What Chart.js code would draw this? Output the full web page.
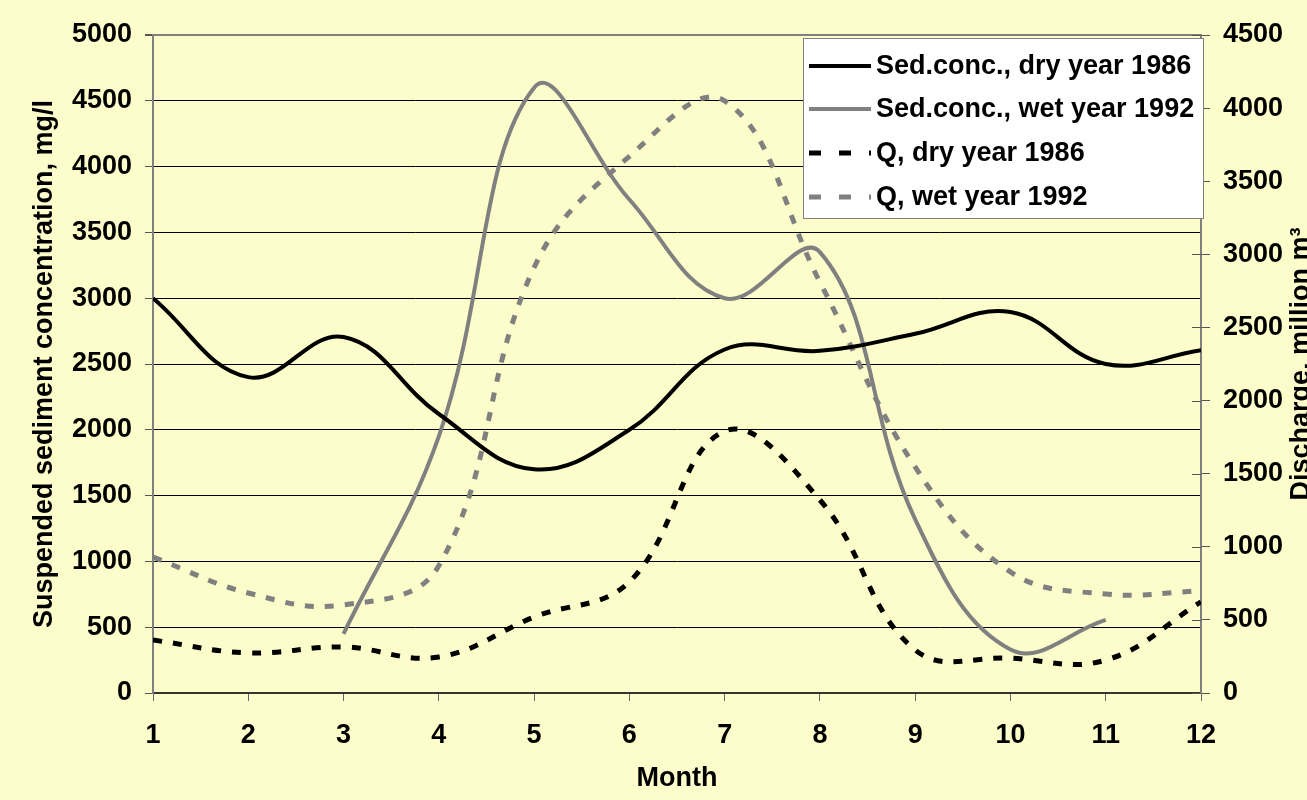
<!DOCTYPE html>
<html>
<head>
<meta charset="utf-8">
<script src="https://cdn.jsdelivr.net/npm/chart.js@4.4.0/dist/chart.umd.min.js"></script>
<style>
  html, body { margin: 0; padding: 0; background: #fdfdcb; overflow: hidden; }
  canvas { display: block; }
</style>
</head>
<body>
<canvas id="chart" width="1307" height="800"></canvas>
<script>
// monthly values
const months = [1, 2, 3, 4, 5, 6, 7, 8, 9, 10, 11, 12];
const sedDry1986 = [3000, 2400, 2705, 2120, 1700, 2000, 2610, 2600, 2730, 2895, 2500, 2605];
const sedWet1992 = [null, null, 450, 1950, 4600, 3750, 3000, 3350, 1320, 330, 555, null];
const qDry1986 = [362, 274, 315, 246, 520, 760, 1790, 1320, 294, 239, 225, 623];
const qWet1992 = [930, 684, 602, 870, 2910, 3670, 4050, 2810, 1546, 828, 677, 698];

const leftTicks = [0, 500, 1000, 1500, 2000, 2500, 3000, 3500, 4000, 4500, 5000];
const rightTicks = [0, 500, 1000, 1500, 2000, 2500, 3000, 3500, 4000, 4500];

const seriesNames = ['Sed.conc., dry year 1986', 'Sed.conc., wet year 1992', 'Q, dry year 1986', 'Q, wet year 1992'];
const xTitle = 'Month';
const leftTitle = 'Suspended sediment concentration, mg/l';
const rightTitle = 'Discharge, million m³';

const FONT = '"Liberation Sans", Arial, sans-serif';

function pts(vals) {
    return months.map((m, i) => ({ x: m, y: vals[i] }));
}

const data = {
    datasets: [
        { label: seriesNames[0], data: pts(sedDry1986), yAxisID: 'y', borderColor: '#000000', borderWidth: 4 },
        { label: seriesNames[1], data: pts(sedWet1992), yAxisID: 'y', borderColor: '#808080', borderWidth: 4 },
        { label: seriesNames[2], data: pts(qDry1986), yAxisID: 'y1', borderColor: '#000000', borderWidth: 5, borderDash: [9, 11] },
        { label: seriesNames[3], data: pts(qWet1992), yAxisID: 'y1', borderColor: '#808080', borderWidth: 5, borderDash: [9, 11] }
    ]
};

// right axis title (reads bottom to top), inner ticks on the right axis, boxed legend
const extras = {
    id: 'extras',
    afterDraw(chart) {
        const ctx = chart.ctx;
        const area = chart.chartArea;
        const y1 = chart.scales.y1;
        ctx.save();
        ctx.strokeStyle = '#555';
        ctx.lineWidth = 1;
        y1.ticks.forEach(t => {
            const py = Math.round(y1.getPixelForValue(t.value)) + 0.5;
            ctx.beginPath();
            ctx.moveTo(y1.left - 9, py);
            ctx.lineTo(y1.left, py);
            ctx.stroke();
        });
        ctx.restore();

        ctx.save();
        ctx.translate(1302, (area.top + area.bottom) / 2);
        ctx.rotate(-Math.PI / 2);
        ctx.font = 'bold 27px ' + FONT;
        ctx.fillStyle = '#000';
        ctx.textAlign = 'center';
        ctx.textBaseline = 'middle';
        ctx.fillText(rightTitle, 0, 0);
        ctx.restore();

        // legend
        const bx = 803.5, by = 38.5, bw = 400, bh = 180;
        const rows = [66, 109, 153, 197];
        ctx.save();
        ctx.fillStyle = '#ffffff';
        ctx.fillRect(bx, by, bw, bh);
        ctx.strokeStyle = '#808080';
        ctx.lineWidth = 1;
        ctx.strokeRect(bx, by, bw, bh);
        chart.data.datasets.forEach((ds, i) => {
            const y = rows[i];
            ctx.beginPath();
            ctx.strokeStyle = ds.borderColor;
            ctx.lineWidth = ds.borderDash ? 5 : 4;
            ctx.setLineDash(ds.borderDash ? [12, 18] : []);
            ctx.moveTo(809, y);
            ctx.lineTo(871, y);
            ctx.stroke();
            ctx.setLineDash([]);
            ctx.fillStyle = '#000';
            ctx.font = 'bold 27px ' + FONT;
            ctx.textAlign = 'left';
            ctx.textBaseline = 'middle';
            ctx.fillText(ds.label, 876, y + 1);
        });
        ctx.restore();
    }
};

const tickFont = { family: FONT, size: 27, weight: 'bold' };
const plain = v => String(v);

const config = {
    type: 'line',
    data: data,
    options: {
        responsive: false,
        animation: false,
        events: [],
        layout: { padding: { top: 35, left: 0, right: 0, bottom: 0 } },
        elements: {
            line: { tension: 0.4, fill: false, borderCapStyle: 'butt' },
            point: { radius: 0 }
        },
        plugins: {
            legend: { display: false },
            tooltip: { enabled: false }
        },
        scales: {
            x: {
                type: 'linear',
                min: 1,
                max: 12,
                afterFit: s => { s.height = 107; },
                afterBuildTicks: s => { s.ticks = months.map(v => ({ value: v })); },
                ticks: { color: '#000', font: tickFont, padding: 18, maxRotation: 0, callback: plain },
                grid: { drawOnChartArea: false, drawTicks: true, tickLength: 8, color: '#666' },
                border: { color: '#333', width: 2 },
                title: { display: true, text: xTitle, color: '#000', font: tickFont, padding: { top: 0, bottom: 5 } }
            },
            y: {
                position: 'left',
                min: 0,
                max: 5000,
                afterFit: s => { s.width = 153; },
                afterBuildTicks: s => { s.ticks = leftTicks.map(v => ({ value: v })); },
                ticks: { color: '#000', font: tickFont, padding: 13, callback: plain },
                grid: {
                    color: c => (c.tick && c.tick.value === 5000) ? '#808080' : '#000',
                    lineWidth: c => (c.tick && c.tick.value === 5000) ? 2 : 1,
                    tickColor: '#555',
                    tickLength: 8
                },
                border: { color: '#808080', width: 2 },
                title: { display: true, text: leftTitle, color: '#000', font: tickFont, padding: { top: 28, bottom: 0 } }
            },
            y1: {
                position: 'right',
                min: 0,
                max: 4500,
                afterFit: s => { s.width = 106; },
                afterBuildTicks: s => { s.ticks = rightTicks.map(v => ({ value: v })); },
                ticks: { color: '#000', font: tickFont, padding: 13, callback: plain },
                grid: { drawOnChartArea: false, tickColor: '#555', tickLength: 9 },
                border: { color: '#808080', width: 2 }
            }
        }
    },
    plugins: [extras]
};

const chart = new Chart(document.getElementById('chart'), config);
</script>
</body>
</html>
